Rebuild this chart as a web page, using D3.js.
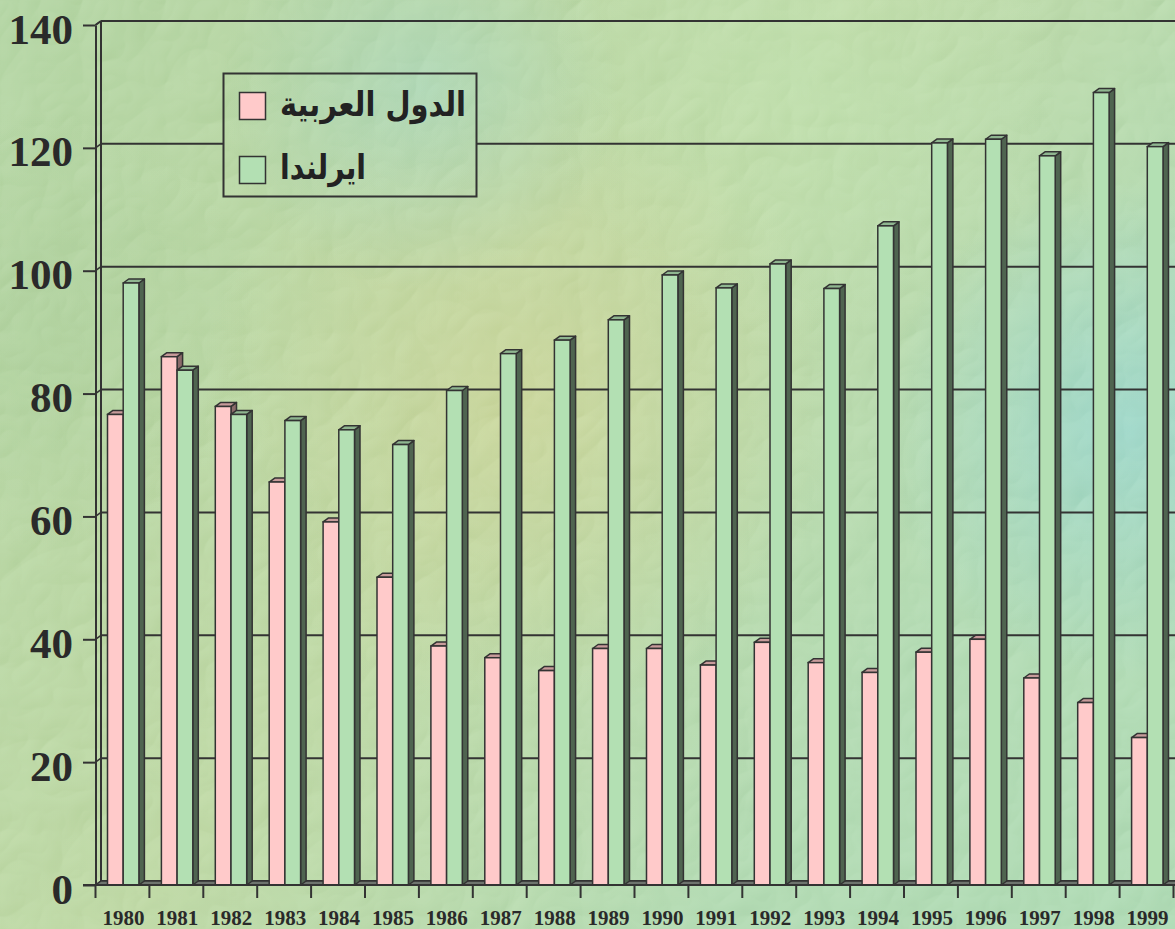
<!DOCTYPE html>
<html><head><meta charset="utf-8">
<script src="https://cdn.jsdelivr.net/npm/d3@7"></script>
<style>html,body{margin:0;padding:0;background:#b8d8ac;overflow:hidden}</style>
</head><body>
<script>
const years = ["1980","1981","1982","1983","1984","1985","1986","1987","1988","1989","1990","1991","1992","1993","1994","1995","1996","1997","1998","1999"];
const arabValues = [76.6, 86.0, 77.9, 65.6, 59.1, 50.1, 38.9, 37.0, 34.9, 38.5, 38.5, 35.8, 39.5, 36.2, 34.6, 37.9, 40.0, 33.7, 29.7, 24.0];
const irelandValues = [98.0, 83.8, 76.6, 75.6, 74.1, 71.7, 80.5, 86.5, 88.7, 92.0, 99.3, 97.2, 101.1, 97.1, 107.3, 120.8, 121.4, 118.7, 129.0, 120.2];
const seriesNames = ["الدول العربية", "ايرلندا"];
const yTicks = [0, 20, 40, 60, 80, 100, 120, 140];

const W = 1175, H = 929;
const svg = d3.select("body").append("svg").attr("width", W).attr("height", H).attr("id","chart");
const defs = svg.append("defs");

// background texture
const bgGrad = defs.append("linearGradient").attr("id","bgLin").attr("gradientUnits","userSpaceOnUse")
  .attr("x1",0).attr("y1",0).attr("x2",W).attr("y2",H);
[[0,"#b0d2a0"],[0.45,"#bcd6a2"],[0.75,"#b0d8b0"],[1,"#acd8b2"]].forEach(([o,c])=>bgGrad.append("stop").attr("offset",o).attr("stop-color",c));
function radial(id, cx, cy, r, color, op){
  const g = defs.append("radialGradient").attr("id",id).attr("gradientUnits","userSpaceOnUse").attr("cx",cx).attr("cy",cy).attr("r",r);
  g.append("stop").attr("offset",0).attr("stop-color",color).attr("stop-opacity",op);
  g.append("stop").attr("offset",1).attr("stop-color",color).attr("stop-opacity",0);
}
radial("rYel", 520, 400, 320, "#cbd295", 0.7);
radial("rCyan", 1130, 430, 250, "#98d4cc", 0.8);
radial("rTeal", 420, 90, 200, "#a4d4c0", 0.55);
radial("rGreenTop", 800, 80, 260, "#bde0ae", 0.6);
radial("rLeft", 40, 330, 220, "#a9cc98", 0.6);

const f = defs.append("filter").attr("id","stucco").attr("x",0).attr("y",0).attr("width","100%").attr("height","100%");
f.append("feTurbulence").attr("type","turbulence").attr("baseFrequency","0.012").attr("numOctaves",3).attr("seed",11).attr("result","noise");
const lt = f.append("feDiffuseLighting").attr("in","noise").attr("lighting-color","#ffffff").attr("surfaceScale",3).attr("result","light");
lt.append("feDistantLight").attr("azimuth",225).attr("elevation",55);
f.append("feComposite").attr("in","SourceGraphic").attr("in2","light").attr("operator","arithmetic")
  .attr("k1",0).attr("k2",1).attr("k3",0.24).attr("k4",-0.17);

const bg = defs.append("g").attr("id","bgGroup");
const bgInner = bg.append("g").attr("filter","url(#stucco)");
bgInner.append("rect").attr("width",W).attr("height",H).attr("fill","url(#bgLin)");
["rLeft","rYel","rTeal","rGreenTop","rCyan"].forEach(id=>bgInner.append("rect").attr("width",W).attr("height",H).attr("fill",`url(#${id})`));
svg.append("use").attr("href","#bgGroup");

// scales
const y = d3.scaleLinear().domain([0,140]).range([885,25]);
const x0 = d3.scaleBand().domain(years).range([95.5,1173.5]).padding(0);
const x1 = d3.scaleBand().domain(["arab","ireland"]).range([12,43.4]).padding(0);
const DX = 5.5, DY = 4;
const ink = "#333333";

// back wall & gridlines
const wall = svg.append("g");
wall.append("line").attr("x1",95.5+DX).attr("x2",95.5+DX).attr("y1",y(140)-DY).attr("y2",y(0)-DY).attr("stroke",ink).attr("stroke-width",2);
yTicks.forEach(v=>{
  wall.append("line").attr("x1",95.5+DX).attr("x2",W).attr("y1",y(v)-DY).attr("y2",y(v)-DY).attr("stroke",ink).attr("stroke-width",2);
  wall.append("line").attr("x1",95.5).attr("x2",95.5+DX).attr("y1",y(v)).attr("y2",y(v)-DY).attr("stroke",ink).attr("stroke-width",1.5);
});
// floor
svg.append("path").attr("d",`M95.5,${y(0)} L${95.5+DX},${y(0)-DY} L${W+10},${y(0)-DY} L${W+10},${y(0)} Z`)
  .attr("fill","#6e746e").attr("stroke",ink).attr("stroke-width",1.5);

// bars
const series = [
  {key:"arab", values: arabValues, front:"#ffcaca", top:"#c89b9b", side:"#8a6a6a"},
  {key:"ireland", values: irelandValues, front:"#b3e0b3", top:"#8fb690", side:"#4f6450"}
];
const barsG = svg.append("g");
years.forEach((yr,i)=>{
  series.forEach(s=>{
    const v = s.values[i];
    const xl = x0(yr) + x1(s.key), w = x1.bandwidth();
    const yt = y(v), yb = y(0);
    const g = barsG.append("g");
    g.append("path").attr("d",`M${xl+w},${yt} L${xl+w+DX},${yt-DY} L${xl+w+DX},${yb-DY} L${xl+w},${yb} Z`)
      .attr("fill",s.side).attr("stroke",ink).attr("stroke-width",1.5).attr("stroke-linejoin","round");
    g.append("path").attr("d",`M${xl},${yt} L${xl+DX},${yt-DY} L${xl+w+DX},${yt-DY} L${xl+w},${yt} Z`)
      .attr("fill",s.top).attr("stroke",ink).attr("stroke-width",1.5).attr("stroke-linejoin","round");
    g.append("rect").attr("x",xl).attr("y",yt).attr("width",w).attr("height",yb-yt)
      .attr("fill",s.front).attr("stroke",ink).attr("stroke-width",1.5);
  });
});

// y axis (front)
const yAxis = d3.axisLeft(y).tickValues(yTicks).tickSize(12.5).tickSizeOuter(0).tickPadding(10).tickFormat(d3.format("d"));
const ya = svg.append("g").attr("transform","translate(95.5,0)").call(yAxis);
ya.select(".domain").attr("stroke",ink).attr("stroke-width",2);
ya.selectAll(".tick line").attr("stroke",ink).attr("stroke-width",2);
ya.selectAll(".tick text").attr("fill","#2a2a2a").attr("font-family","'Liberation Serif','Times New Roman',serif")
  .attr("font-weight","bold").attr("font-size",43).attr("dy","0.42em");
svg.append("line").attr("x1",95.5).attr("y1",y(140)).attr("x2",95.5+DX).attr("y2",y(140)-DY).attr("stroke",ink).attr("stroke-width",2);

// x axis (front)
svg.append("line").attr("x1",83).attr("x2",W).attr("y1",y(0)).attr("y2",y(0)).attr("stroke",ink).attr("stroke-width",2);
const bounds = years.map(yr=>x0(yr)).concat([x0.range()[1]]);
svg.append("g").selectAll("line").data(bounds).join("line")
  .attr("x1",d=>d).attr("x2",d=>d).attr("y1",y(0)).attr("y2",y(0)+13).attr("stroke",ink).attr("stroke-width",2);
const xAxis = d3.axisBottom(x0).tickSize(0).tickPadding(0);
const xa = svg.append("g").attr("transform",`translate(1,${y(0)})`).call(xAxis);
xa.select(".domain").remove();
xa.selectAll(".tick text").attr("fill","#2a2a2a").attr("font-family","'Liberation Serif','Times New Roman',serif")
  .attr("font-weight","bold").attr("font-size",21).attr("y",40).attr("dy",0);

// legend
const lx = 223.5, ly = 73.5, lw = 253, lh = 123;
defs.append("clipPath").attr("id","legClip").append("rect").attr("x",lx).attr("y",ly).attr("width",lw).attr("height",lh);
svg.append("use").attr("href","#bgGroup").attr("clip-path","url(#legClip)");
svg.append("rect").attr("x",lx).attr("y",ly).attr("width",lw).attr("height",lh).attr("fill","none").attr("stroke",ink).attr("stroke-width",2);
const legItems = [
  {name: seriesNames[0], color: series[0].front, sy: 92.5, ty: 116, len: 186},
  {name: seriesNames[1], color: series[1].front, sy: 156.5, ty: 179, len: 86}
];
legItems.forEach(it=>{
  svg.append("rect").attr("x",239.5).attr("y",it.sy).attr("width",26).attr("height",27).attr("fill",it.color).attr("stroke",ink).attr("stroke-width",1.5);
  svg.append("text").attr("x",280).attr("y",it.ty).text(it.name)
    .attr("textLength",it.len).attr("lengthAdjust","spacingAndGlyphs")
    .attr("font-family","'DejaVu Sans',sans-serif").attr("font-weight","bold").attr("font-size",34).attr("fill","#222");
});
</script>
</body></html>
